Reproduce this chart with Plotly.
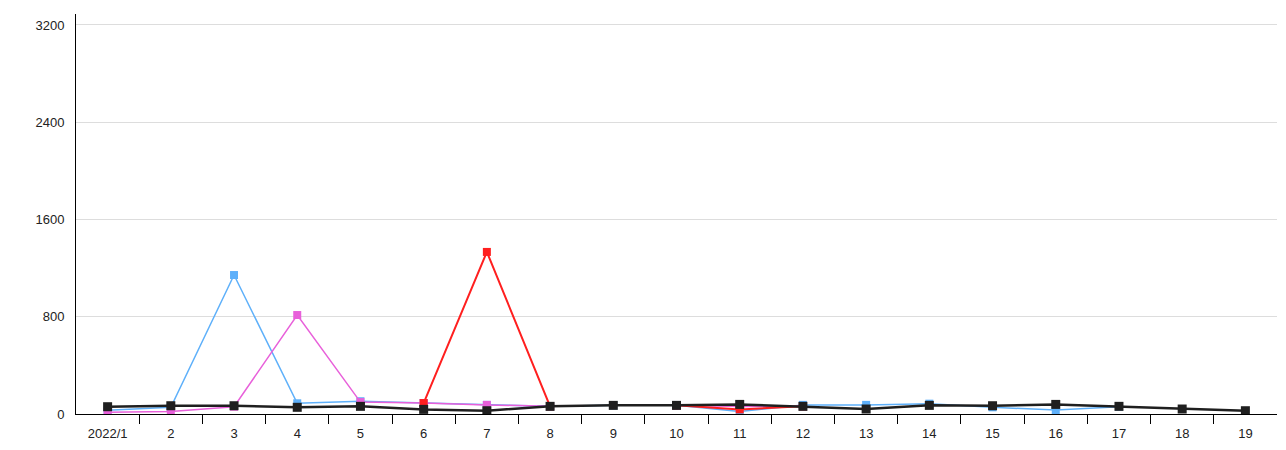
import plotly.graph_objects as go

categories = ["2022/1"] + [str(i) for i in range(2, 20)]
x_pos = list(range(1, 20))
boundaries = [i + 0.5 for i in range(1, 19)]

black_vals = [60, 68, 68, 55, 63, 38, 27, 63, 71, 71, 79, 63, 41, 71, 68, 79, 63, 41, 27]
blue_vals = [30, 55, 1143, 88, 105, 90, 75, 63, 71, 71, 20, 75, 75, 85, 55, 33, 60, None, None]
pink_vals = [14, 20, 60, 814, 98, 90, 75, 63, None, 71, 62, 63, None, None, None, None, None, None, None]
red_vals = [None, None, None, None, None, 90, 1333, 63, None, 71, 38, 63, None, None, None, None, None, None, None]

y_ticks = [0, 800, 1600, 2400, 3200]

fig = go.Figure()

def add(vals, color, lw, ms):
    fig.add_trace(go.Scatter(
        x=x_pos, y=vals, mode="lines+markers",
        line=dict(color=color, width=lw),
        marker=dict(symbol="square", size=ms, color=color),
        connectgaps=False, showlegend=False, hoverinfo="skip"))

add(blue_vals, "#5EB0FA", 1.5, 8)
add(pink_vals, "#E860DA", 1.5, 8)
add(red_vals, "#FF1F1F", 2, 8)
add(black_vals, "#1F1F1F", 2.5, 9)

fig.update_layout(
    width=1278, height=442,
    margin=dict(l=68, r=9, t=6, b=36),
    plot_bgcolor="white", paper_bgcolor="white",
    font=dict(family="Liberation Sans, Arial, sans-serif", size=13, color="#222"),
    showlegend=False,
    xaxis=dict(
        range=[0.5, 19.5],
        tickmode="array", tickvals=x_pos, ticktext=categories,
        ticks="", showgrid=False, zeroline=False,
        showline=True, linecolor="#000", linewidth=1,
        ticklabelstandoff=7,
        minor=dict(tickmode="array", tickvals=boundaries, ticks="outside", ticklen=9,
                   tickcolor="#000", tickwidth=1, showgrid=False),
    ),
    yaxis=dict(
        range=[0, 3290],
        tickmode="array", tickvals=y_ticks,
        ticks="", showgrid=True, gridcolor="#dddddd", gridwidth=1,
        zeroline=False, showline=True, linecolor="#000", linewidth=1,
        ticklabelstandoff=8,
    ),
)

fig.write_html("out.html")
